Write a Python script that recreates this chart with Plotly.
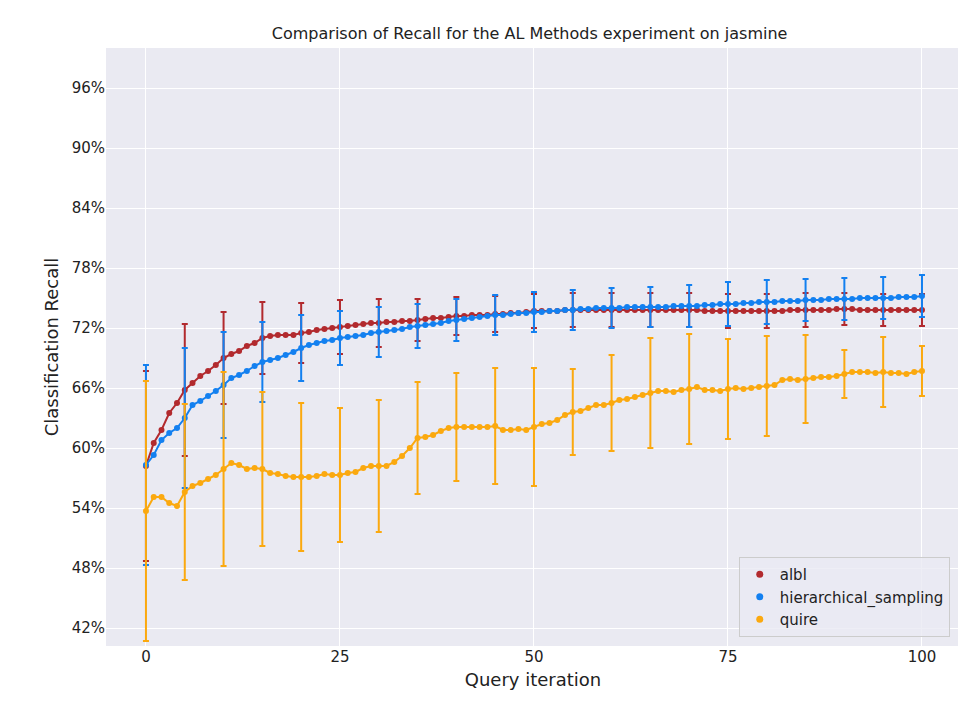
import plotly.graph_objects as go

x = list(range(101))
albl = [0.582,0.605,0.618,0.635,0.645,0.658,0.665,0.672,0.677,0.683,0.690,0.694,0.697,0.702,0.705,0.710,0.712,0.713,0.713,0.713,
        0.715,0.716,0.718,0.719,0.720,0.721,0.722,0.723,0.724,0.725,0.725,0.726,0.726,0.727,0.727,0.728,0.729,0.730,0.730,0.731,
        0.732,0.732,0.733,0.733,0.733,0.734,0.734,0.735,0.735,0.736,0.737,0.737,0.737,0.737,0.738,0.738,0.738,0.738,0.738,0.738,
        0.738,0.738,0.738,0.738,0.738,0.738,0.738,0.738,0.738,0.738,0.738,0.738,0.737,0.737,0.737,0.737,0.737,0.737,0.737,0.737,
        0.737,0.737,0.737,0.738,0.738,0.738,0.738,0.738,0.738,0.739,0.739,0.739,0.738,0.738,0.738,0.738,0.738,0.738,0.738,0.738,0.738]
hier = [0.583,0.593,0.608,0.615,0.620,0.630,0.643,0.647,0.652,0.657,0.663,0.670,0.673,0.677,0.682,0.686,0.688,0.690,0.693,0.696,
        0.700,0.703,0.705,0.707,0.708,0.710,0.711,0.712,0.713,0.715,0.716,0.717,0.718,0.719,0.721,0.722,0.723,0.724,0.725,0.727,
        0.728,0.729,0.730,0.731,0.732,0.733,0.733,0.734,0.735,0.735,0.736,0.736,0.737,0.737,0.738,0.738,0.739,0.739,0.740,0.740,
        0.740,0.740,0.741,0.741,0.741,0.741,0.741,0.741,0.742,0.742,0.742,0.742,0.743,0.743,0.744,0.744,0.744,0.745,0.745,0.746,
        0.746,0.746,0.747,0.747,0.747,0.748,0.748,0.748,0.749,0.749,0.749,0.749,0.750,0.750,0.750,0.750,0.750,0.751,0.751,0.751,0.752]
quire = [0.537,0.551,0.551,0.545,0.542,0.556,0.562,0.565,0.569,0.573,0.579,0.585,0.583,0.579,0.580,0.579,0.575,0.574,0.572,0.571,
         0.571,0.571,0.572,0.574,0.573,0.573,0.575,0.576,0.580,0.582,0.582,0.582,0.586,0.592,0.600,0.610,0.611,0.613,0.617,0.620,
         0.621,0.621,0.621,0.621,0.621,0.622,0.618,0.618,0.619,0.618,0.621,0.624,0.625,0.628,0.633,0.636,0.637,0.640,0.643,0.643,
         0.645,0.648,0.649,0.651,0.653,0.655,0.657,0.657,0.656,0.658,0.659,0.661,0.658,0.658,0.657,0.659,0.660,0.659,0.660,0.661,
         0.662,0.663,0.668,0.669,0.668,0.669,0.670,0.671,0.671,0.672,0.674,0.676,0.676,0.676,0.675,0.676,0.675,0.675,0.674,0.676,0.677]
err_x = list(range(0, 101, 5))
albl_std = [0.095,0.066,0.046,0.036,0.030,0.027,0.024,0.021,0.019,0.018,0.017,0.017,0.017,0.017,0.017,0.017,0.017,0.017,0.016,0.016,0.016]
hier_std = [0.100,0.070,0.053,0.040,0.033,0.027,0.025,0.022,0.021,0.020,0.020,0.020,0.020,0.020,0.021,0.022,0.022,0.021,0.021,0.021,0.021]
quire_std = [0.130,0.088,0.097,0.077,0.074,0.067,0.066,0.056,0.054,0.058,0.059,0.043,0.048,0.055,0.055,0.050,0.050,0.044,0.024,0.035,0.025]

series = [("albl", albl, albl_std, "#B22A2E"),
          ("hierarchical_sampling", hier, hier_std, "#1380F0"),
          ("quire", quire, quire_std, "#FBA90F")]

fig = go.Figure()
for name, y, sd, c in series:
    fig.add_trace(go.Scatter(x=x, y=y, mode="lines+markers", name=name, showlegend=False,
                             line=dict(color=c, width=2), marker=dict(color=c, size=6)))
    fig.add_trace(go.Scatter(x=err_x, y=[y[i] for i in err_x], mode="markers", showlegend=False,
                             marker=dict(color=c, size=1, opacity=0),
                             error_y=dict(type="data", array=sd, color=c, thickness=2, width=3)))
for name, y, sd, c in series:
    fig.add_trace(go.Scatter(x=[None], y=[None], mode="markers", name=name,
                             marker=dict(color=c, size=7)))

fig.update_layout(
    width=966, height=716, template="none",
    paper_bgcolor="white", plot_bgcolor="#EAEAF2",
    margin=dict(l=98, r=14, t=40, b=78),
    font=dict(family="DejaVu Sans", size=15, color="#222"),
    title=dict(text="Comparison of Recall for the AL Methods experiment on jasmine", x=0.54, y=0.972, font=dict(size=16)),
    xaxis=dict(title=dict(text="Query iteration", standoff=8), range=[-5.15, 104.9], tickvals=[0, 25, 50, 75, 100],
               gridcolor="white", gridwidth=1.3, zeroline=False, showline=False, ticks="", automargin=False),
    yaxis=dict(title=dict(text="Classification Recall", standoff=8), range=[0.402, 1.0],
               tickvals=[0.42,0.48,0.54,0.60,0.66,0.72,0.78,0.84,0.90,0.96],
               tickformat=".0%", gridcolor="white", gridwidth=1.3, zeroline=False, showline=False, ticks="", automargin=False),
    legend=dict(x=0.988, y=0.015, xanchor="right", yanchor="bottom", bgcolor="rgba(234,234,242,0.8)",
                bordercolor="#ccc", borderwidth=1, font=dict(size=15)),
)
fig.write_html("out.html")
